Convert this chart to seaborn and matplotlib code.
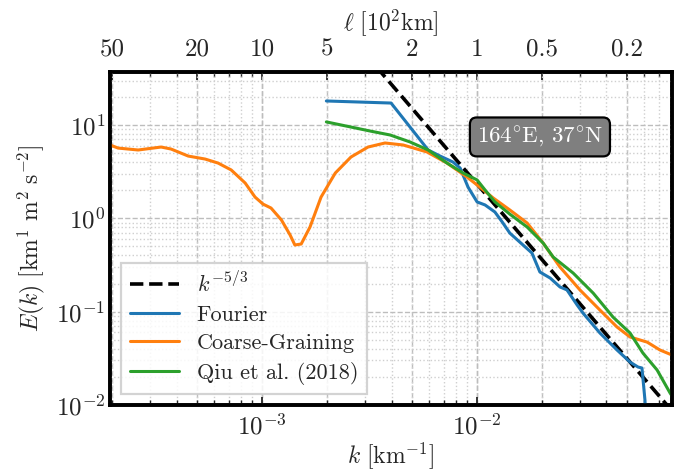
import matplotlib
matplotlib.use("Agg")
import matplotlib.pyplot as plt
import seaborn as sns
from matplotlib.ticker import LogLocator, NullFormatter

# Fourier spectrum
k_fourier = [1.99e-3, 3.98e-3, 4.88e-3, 5.92e-3, 6.73e-3, 7.73e-3, 8.34e-3, 9.08e-3,
             1.0e-2, 1.09e-2, 1.21e-2, 1.31e-2, 1.42e-2, 1.58e-2, 1.80e-2, 1.96e-2,
             2.19e-2, 2.43e-2, 2.62e-2, 2.92e-2, 3.11e-2, 3.73e-2, 4.48e-2, 5.15e-2,
             5.61e-2, 5.85e-2, 6.04e-2, 6.11e-2]
E_fourier = [18.1, 17.2, 9.5, 5.40, 4.65, 4.01, 3.46, 2.16,
             1.50, 1.39, 1.17, 0.913, 0.695, 0.557, 0.425, 0.266,
             0.229, 0.184, 0.171, 0.118, 0.0966, 0.059, 0.0388, 0.0288,
             0.0255, 0.0249, 0.0113, 0.0069]

# coarse-graining spectrum
k_cg = [1.96e-4, 2.14e-4, 2.65e-4, 3.39e-4, 3.77e-4, 4.53e-4, 5.43e-4, 6.24e-4,
        7.18e-4, 8.34e-4, 9.27e-4, 1.01e-3, 1.10e-3, 1.23e-3, 1.35e-3, 1.42e-3,
        1.52e-3, 1.67e-3, 1.88e-3, 2.19e-3, 2.59e-3, 3.11e-3, 3.73e-3, 4.53e-3,
        5.85e-3, 7.25e-3, 8.98e-3, 1.03e-2, 1.19e-2, 1.42e-2, 1.71e-2, 2.03e-2,
        2.43e-2, 3.01e-2, 3.73e-2, 4.48e-2, 5.15e-2, 6.18e-2, 7.10e-2, 8.07e-2]
E_cg = [6.11, 5.66, 5.40, 5.81, 5.53, 4.65, 4.32, 3.91,
        3.30, 2.39, 1.69, 1.42, 1.29, 0.96, 0.662, 0.518,
        0.531, 0.807, 1.69, 3.06, 4.54, 5.81, 6.42, 6.11,
        5.14, 3.91, 2.77, 2.16, 1.65, 1.23, 0.891, 0.543,
        0.301, 0.171, 0.104, 0.0684, 0.0535, 0.0472, 0.0388, 0.0343]

# Qiu et al. (2018)
k_qiu = [1.99e-3, 3.18e-3, 3.94e-3, 4.88e-3, 5.92e-3, 7.25e-3, 8.61e-3, 1.0e-2,
         1.09e-2, 1.21e-2, 1.42e-2, 1.71e-2, 2.03e-2, 2.26e-2, 2.80e-2, 3.47e-2,
         4.29e-2, 5.15e-2, 5.91e-2, 6.88e-2, 7.91e-2, 8.07e-2]
E_qiu = [10.8, 8.62, 7.82, 6.58, 5.40, 3.91, 3.06, 2.58,
         2.01, 1.50, 1.11, 0.807, 0.543, 0.385, 0.259, 0.158,
         0.0875, 0.059, 0.036, 0.0237, 0.0134, 0.0125]

# reference slope line, end points
k_ref = [3.4e-3, 7.7e-2]
E_ref = [42.0, 0.0098]

# top axis: length scale in 10^2 km
ell_ticks = [50, 20, 10, 5, 2, 1, 0.5, 0.2]
ell_labels = ["50", "20", "10", "5", "2", "1", "0.5", "0.2"]

sns.set_style("white")
plt.rcParams["font.family"] = "serif"
plt.rcParams["font.serif"] = ["cmr10"]
plt.rcParams["mathtext.fontset"] = "cm"
plt.rcParams["axes.formatter.use_mathtext"] = True
plt.rcParams["axes.unicode_minus"] = False
plt.rcParams["font.size"] = 16

colors = sns.color_palette("tab10")
grid_col = "#bdbdbd"
tick_fs = 18
lab_fs = 17

fig = plt.figure(figsize=(6.94, 4.74), dpi=100)
ax = fig.add_axes([0.1585, 0.1456, 0.8098, 0.7025])

sns.lineplot(x=k_ref, y=E_ref, ax=ax, color="black", lw=2.6, ls="--",
             label=r"$k^{-5/3}$", estimator=None, sort=False)
sns.lineplot(x=k_fourier, y=E_fourier, ax=ax, color=colors[0], lw=2.2,
             label="Fourier", estimator=None, sort=False)
sns.lineplot(x=k_cg, y=E_cg, ax=ax, color=colors[1], lw=2.2,
             label="Coarse-Graining", estimator=None, sort=False)
sns.lineplot(x=k_qiu, y=E_qiu, ax=ax, color=colors[2], lw=2.2,
             label="Qiu et al. (2018)", estimator=None, sort=False)

ax.set_xscale("log")
ax.set_yscale("log")
ax.set_xlim(1.96e-4, 8.07e-2)
ax.set_ylim(1e-2, 37)
ax.xaxis.set_minor_locator(LogLocator(base=10, subs=range(2, 10)))
ax.yaxis.set_minor_locator(LogLocator(base=10, subs=range(2, 10)))
ax.xaxis.set_minor_formatter(NullFormatter())
ax.yaxis.set_minor_formatter(NullFormatter())

ax.set_xlabel(r"$k\ [\mathrm{km}^{-1}]$", fontsize=lab_fs, labelpad=1)
ax.set_ylabel(r"$E(k)\ [\mathrm{km}^1\ \mathrm{m}^2\ \mathrm{s}^{-2}]$",
              fontsize=lab_fs, labelpad=6)

ax.grid(True, which="major", color=grid_col, ls="--", lw=1.0)
ax.grid(True, which="minor", color="#cfcfcf", ls=":", lw=1.0)
ax.tick_params(which="both", direction="in", top=False, right=False,
               labelsize=tick_fs)
ax.tick_params(axis="x", which="major", pad=6)
ax.tick_params(which="major", length=6, width=1.3)
ax.tick_params(which="minor", length=3.5, width=1.0)

# twin axis on top with ell = 1/(100 k)
top = ax.twiny()
top.set_xscale("log")
top.set_xlim(ax.get_xlim())
top.set_xticks([1.0 / (100.0 * l) for l in ell_ticks])
top.set_xticklabels(ell_labels)
top.xaxis.set_minor_locator(LogLocator(base=10, subs=range(2, 10)))
top.xaxis.set_minor_formatter(NullFormatter())
top.tick_params(which="both", direction="in", labelsize=tick_fs)
top.tick_params(which="major", length=6, width=1.3, pad=8)
top.tick_params(which="minor", length=3.5, width=1.0)
top.grid(True, which="major", axis="x", color=grid_col, ls="--", lw=1.0)
top.set_xlabel(r"$\ell\ [10^2\mathrm{km}]$", fontsize=lab_fs, labelpad=6)

# keep curves above the top-axis grid
ax.set_zorder(top.get_zorder() + 1)
ax.patch.set_visible(False)

for a in (ax, top):
    for s in a.spines.values():
        s.set_linewidth(2.6)
        s.set_color("black")

ax.text(0.765, 0.805, r"164$^{\circ}$E, 37$^{\circ}$N", transform=ax.transAxes,
        ha="center", va="center", color="white", fontsize=16.5,
        bbox=dict(boxstyle="round,pad=0.3", fc="#7f7f7f", ec="black", lw=1.6))

leg = ax.legend(loc="lower left", fontsize=16, fancybox=False,
                edgecolor="#cccccc", framealpha=0.85, handlelength=2.2,
                labelspacing=0.4, borderpad=0.4)
leg.get_frame().set_linewidth(1.6)

fig.savefig("out.png", dpi=100)
